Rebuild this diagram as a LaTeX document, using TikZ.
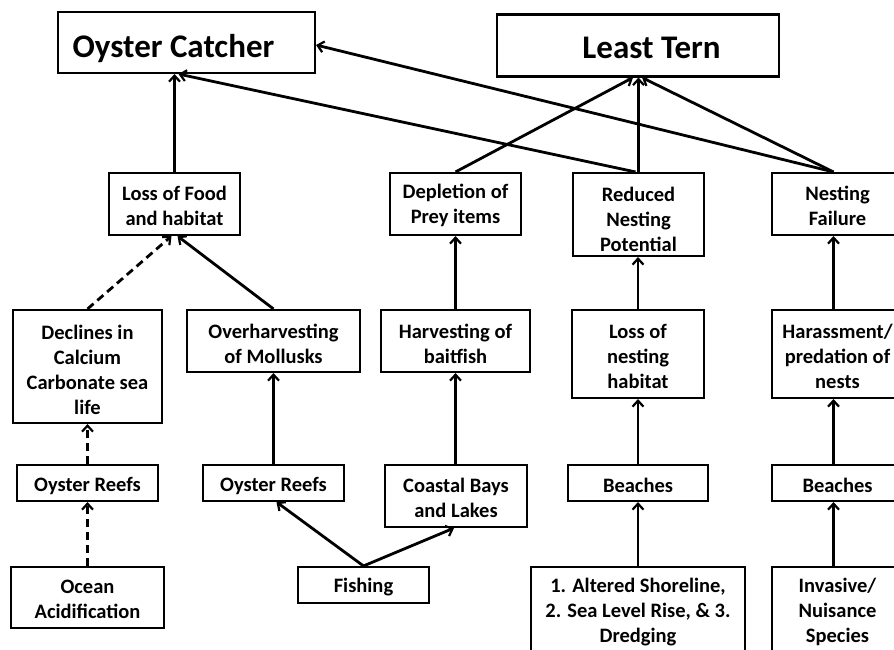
\documentclass[tikz,border=0pt]{standalone}
\usepackage{fontspec}
\setmainfont{Carlito}
\usetikzlibrary{arrows.meta}
\tikzset{
  box/.style={draw, line width=2.1pt, fill=white, inner sep=0pt},
  txt/.style={align=center, inner sep=0pt, font=\bfseries\fontsize{20.5}{25}\selectfont},
  ttxt/.style={align=center, inner sep=0pt, font=\bfseries\fontsize{33}{36}\selectfont},
  link/.style={line width=2.8pt, -{Straight Barb[length=6pt,width=11pt,line width=2.2pt]}},
  dlink/.style={link, dash pattern=on 8pt off 5pt},
}
\begin{document}
\begin{tikzpicture}[x=1pt,y=-1pt]
\useasboundingbox (0,0) rectangle (894,650);
\clip (0,0) rectangle (894,650);
% top row
\node[box, minimum width=257pt, minimum height=61pt] (oc) at (186.5,42.5) {};
\node[ttxt] (oc-t) at ([xshift=-13pt,yshift=-6pt]oc.center) {Oyster Catcher};
\node[box, minimum width=282pt, minimum height=62pt] (lt) at (638,45.5) {};
\node[ttxt] (lt-t) at ([xshift=13.5pt,yshift=-2pt]lt.center) {Least Tern};
% second row
\node[box, minimum width=131pt, minimum height=62pt] (lf) at (174.5,204) {};
\node[box, minimum width=131pt, minimum height=62pt] (dp) at (455.5,204) {};
\node[box, minimum width=131pt, minimum height=83pt] (rn) at (638.5,214.5) {};
\node[box, minimum width=131pt, minimum height=62pt] (nf) at (837.5,204) {};
% third row
\node[box, minimum width=149pt, minimum height=113pt] (dc) at (87.5,366.5) {};
\node[box, minimum width=173pt, minimum height=62pt] (oh) at (273.5,341) {};
\node[box, minimum width=149pt, minimum height=62pt] (hb) at (455.5,341) {};
\node[box, minimum width=132pt, minimum height=88pt] (ln) at (638,354) {};
\node[box, minimum width=131pt, minimum height=88pt] (hp) at (837.5,354) {};
% fourth row
\node[box, minimum width=141pt, minimum height=36pt] (or1) at (87.5,483) {};
\node[box, minimum width=141pt, minimum height=36pt] (or2) at (273.5,483) {};
\node[box, minimum width=142pt, minimum height=62pt] (cb) at (456,496) {};
\node[box, minimum width=140pt, minimum height=36pt] (bc1) at (638,483) {};
\node[box, minimum width=131pt, minimum height=36pt] (bc2) at (837.5,483) {};
% bottom row
\node[box, minimum width=153pt, minimum height=61pt] (oa) at (87.5,597.5) {};
\node[box, minimum width=131pt, minimum height=36pt] (fi) at (363.5,585) {};
\node[box, minimum width=214pt, minimum height=90pt] (as) at (638,612) {};
\node[box, minimum width=131pt, minimum height=90pt] (is) at (837.5,612) {};
% texts
\node[txt] (lf-t) at ([yshift=-1.5pt]lf.center) {Loss of Food\\and habitat};
\node[txt] (dp-t) at ([yshift=-1.5pt]dp.center) {Depletion of\\Prey items};
\node[txt] (rn-t) at ([yshift=-4.5pt]rn.center) {Reduced\\Nesting\\Potential};
\node[txt] (nf-t) at ([yshift=-1.5pt]nf.center) {Nesting\\Failure};
\node[txt] (dc-t) at ([yshift=-3pt]dc.center) {Declines in\\Calcium\\Carbonate sea\\life};
\node[txt] (oh-t) at ([yshift=-2.5pt]oh.center) {Overharvesting\\of Mollusks};
\node[txt] (hb-t) at ([yshift=-2.5pt]hb.center) {Harvesting of\\baitfish};
\node[txt] (ln-t) at ([yshift=-2.5pt]ln.center) {Loss of\\nesting\\habitat};
\node[txt] (hp-t) at ([yshift=-2.5pt]hp.center) {Harassment/\\predation of\\nests};
\node[txt] (or1-t) at ([yshift=-2.5pt]or1.center) {Oyster Reefs};
\node[txt] (or2-t) at ([yshift=-2.5pt]or2.center) {Oyster Reefs};
\node[txt] (cb-t) at ([yshift=-2pt]cb.center) {Coastal Bays\\and Lakes};
\node[txt] (bc1-t) at ([yshift=-2.5pt]bc1.center) {Beaches};
\node[txt] (bc2-t) at ([yshift=-2.5pt]bc2.center) {Beaches};
\node[txt] (oa-t) at ([yshift=-2pt]oa.center) {Ocean\\Acidification};
\node[txt] (fi-t) at ([yshift=-2pt]fi.center) {Fishing};
\node[txt] (as-t) at ([yshift=0pt]as.center) {1. Altered Shoreline,\\2. Sea Level Rise, \& 3.\\Dredging};
\node[txt] (is-t) at ([yshift=0pt]is.center) {Invasive/\\Nuisance\\Species};
% connectors to titles
\draw[link] (lf.north) -- (lf.north |- oc.south);
\draw[link] ([xshift=-3pt]rn.north) -- ([xshift=-8pt]oc.south);
\draw[link] ([xshift=-4pt]nf.north) -- ([yshift=-2.5pt]oc.east);
\draw[link] (dp.north) -- ([xshift=-5pt]lt.south);
\draw[link] (rn.north) -- (rn.north |- lt.south);
\draw[link] ([xshift=-4pt]nf.north) -- ([xshift=4pt]lt.south);
% middle connectors
\draw[dlink] (dc.north) -- ([xshift=-3pt]lf.south);
\draw[link] (oh.north) -- ([xshift=3pt]lf.south);
\draw[link] (hb.north) -- (hb.north |- dp.south);
\draw[link] (ln.north) -- (ln.north |- rn.south);
\draw[link] ([xshift=-4pt]hp.north) -- ([xshift=-4pt]nf.south);
% lower connectors
\draw[dlink] (or1.north) -- (or1.north |- dc.south);
\draw[dlink] (oa.north) -- (oa.north |- or1.south);
\draw[link] (or2.north) -- (or2.north |- oh.south);
\draw[link] (fi.north) -- ([xshift=3pt]or2.south);
\draw[link] (fi.north) -- ([xshift=-2pt]cb.south);
\draw[link] ([xshift=-0.5pt]cb.north) -- ([xshift=-0.5pt]cb.north |- hb.south);
\draw[link] (as.north) -- (as.north |- bc1.south);
\draw[link] (bc1.north) -- (bc1.north |- ln.south);
\draw[link] ([xshift=-4pt]is.north) -- ([xshift=-4pt]bc2.south);
\draw[link] ([xshift=-4pt]bc2.north) -- ([xshift=-4pt]hp.south);
\end{tikzpicture}
\end{document}
